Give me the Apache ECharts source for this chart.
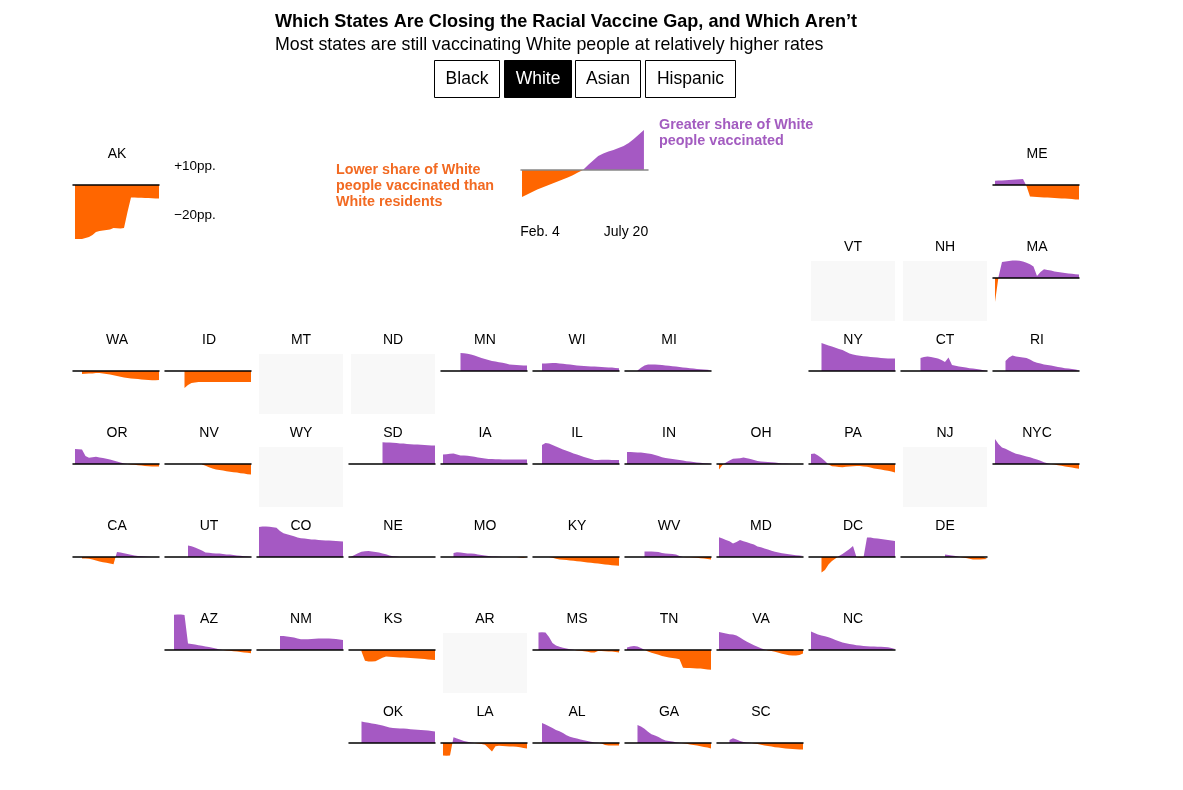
<!DOCTYPE html>
<html><head><meta charset="utf-8">
<style>html,body{margin:0;padding:0;background:#fff}#c{width:1183px;height:790px}</style>
<script src="https://cdn.jsdelivr.net/npm/echarts@6/dist/echarts.min.js"></script>
</head><body><div id="c"></div>
<script>
const _ = null;
// Dates: weekly samples from Feb. 4 to July 20; values: percentage-point gap
const dates = ['Feb. 4','Feb. 11','Feb. 18','Feb. 25','Mar. 4','Mar. 11','Mar. 18','Mar. 25','Apr. 1','Apr. 8','Apr. 15','Apr. 22','Apr. 29','May 6','May 13','May 20','May 27','June 3','June 10','June 17','June 24','July 1','July 8','July 15','July 20'];
const AK=[-27,-27,-27,-26.5,-26,-25,-23.5,-23,-22.8,-22.5,-22.3,-21.5,-21.6,-21.7,-21.5,-13.5,-6.2,-6.3,-6.4,-6.4,-6.5,-6.5,-6.6,-6.7,-6.7];
const ME=[2.1,2.2,2.3,2.4,2.5,2.6,2.8,2.9,3,-0.5,-5.7,-5.9,-6,-6.1,-6.2,-6.3,-6.4,-6.5,-6.6,-6.7,-6.8,-6.9,-7,-7.2,-7.3];
const MA=[-12,0.5,8,8.3,8.5,8.7,8.8,8.6,8.2,7.6,6.9,5.8,1,3,4.4,4,3.7,3.3,3,2.7,2.5,2.3,2.1,1.9,1.7];
const WA=[_,_,-1.5,-1.4,-1.3,-1.2,-1,-1,-1.2,-1.5,-1.8,-2.1,-2.5,-2.9,-3.2,-3.5,-3.7,-3.9,-4,-4.2,-4.4,-4.5,-4.6,-4.6,-4.5];
const ID=[_,_,_,_,_,-8.5,-7,-6,-5.7,-5.5,-5.5,-5.5,-5.5,-5.5,-5.5,-5.5,-5.5,-5.5,-5.5,-5.5,-5.5,-5.5,-5.5,-5.5,-5.5];
const MN=[_,_,_,_,_,9,8.9,8.6,8.2,7.7,7.1,6.5,6,5.5,5,4.7,4.4,4.1,3.8,3.3,3.1,3,2.9,2.8,2.8];
const WI=[_,_,3.8,3.8,3.9,4,4,3.8,3.6,3.4,3.2,3,2.8,2.6,2.5,2.4,2.3,2.2,2.1,2,1.9,1.8,1.7,1.5,1.4];
const MI=[_,_,_,0.2,1.6,2.8,3.2,3.3,3.2,3.1,3,2.8,2.6,2.4,2.2,2,1.8,1.6,1.4,1.2,1,0.9,0.8,0.6,0.4];
const NY=[_,_,_,14,13.4,12.8,12.2,11.6,11,10.5,9.6,8.8,8.3,7.9,7.6,7.4,7.2,7,6.9,6.7,6.5,6.4,6.3,6.2,6.2];
const CT=[_,_,_,_,_,6.5,7,7.3,7,6.6,6.3,5.5,4.5,6.8,3,2.6,2.2,2,1.7,1.4,1.2,1,0.7,0.4,0.2];
const RI=[_,_,_,5,6.8,7.7,7.3,7,6.7,6.5,5.7,4.8,4.1,3.7,3.3,3,2.7,2.4,2,1.7,1.4,1.2,1,0.7,0.4];
const OR=[7.5,7.4,7.2,4,3.1,3.4,3.6,3.3,3,2.6,2.2,1.8,1.3,0.8,0.3,0,-0.2,-0.4,-0.6,-0.8,-1,-1.1,-1.2,-1.3,-1.2];
const NV=[_,_,_,_,_,_,_,_,_,_,-0.2,-0.9,-1.6,-2.3,-2.7,-3,-3.3,-3.6,-3.9,-4.1,-4.3,-4.6,-4.8,-5.1,-5.3];
const SD=[_,_,_,_,_,_,_,_,_,10.9,10.8,10.7,10.6,10.5,10.3,10.2,10,9.9,9.8,9.7,9.6,9.5,9.4,9.3,9.3];
const IA=[4.7,4.9,5.1,5.2,4.8,4.2,4.2,4.1,3.9,3.6,3.3,3,2.7,2.5,2.5,2.4,2.4,2.3,2.3,2.3,2.2,2.2,2.2,2.2,2.2];
const IL=[_,_,9.5,10.5,10.2,9.5,8.8,8,7.2,6.6,6,5.3,4.7,4.1,3.5,3,2.5,2,2,2.1,2.1,2.1,2,2,2];
const IN=[6,6,5.9,5.8,5.7,5.5,5.3,5,4.5,4,3.4,3,2.8,2.5,2.2,2,1.7,1.4,1.2,1,0.8,0.6,0.4,0.2,0];
const OH=[-2.8,-0.5,0.8,1.8,2.6,2.8,2.9,3.2,2.9,2.5,2,1.5,1.2,1.1,1,0.9,0.7,0.5,0.3,0.2,0.1,0,_,_,_];
const PA=[5,5.2,4.2,3,1.5,-0.2,-1.1,-1.2,-1.5,-1.6,-1.4,-1.2,-1.1,-1,-1,-1.2,-1.4,-1.8,-2.2,-2.5,-2.8,-3.1,-3.4,-3.8,-4.2];
const NYC=[12.5,10,8.2,7.6,6.7,5.9,5.1,4.7,4.3,3.8,3.4,2.8,2.2,1.6,0.9,0.4,0,-0.3,-0.6,-0.9,-1.2,-1.5,-1.8,-2.1,-2.4];
const CA=[_,_,-0.7,-0.8,-0.9,-1.3,-1.8,-2.2,-2.6,-2.9,-3.2,-3.6,2.5,2.3,1.9,1.5,1.1,0.7,0.5,0.4,0.3,0.1,0,_,_];
const UT=[_,_,_,_,_,_,5.8,5.4,4.8,4,3.2,2.3,2.1,1.9,1.8,1.7,1.5,1.3,1.2,1,0.8,0.6,0.4,0.3,0.2];
const CO=[15,15.2,15.2,15.1,14.9,14.6,13,11.9,11.4,10.9,10.4,9.8,9.4,9.2,9,8.8,8.7,8.5,8.4,8.3,8.2,8.1,8,7.9,7.8];
const NE=[0.1,1,1.9,2.6,2.9,3,2.8,2.5,2.2,1.8,1.4,0.8,0.4,0.2,0.1,_,_,_,_,_,_,_,_,_,_];
const MO=[_,_,_,2,2.4,2.3,2,1.8,1.7,1.6,1.3,1,0.8,0.5,0.3,0.2,0.1,0,_,_,_,0,-0.3,-0.4,-0.5];
const KY=[_,_,_,_,0,-0.4,-0.9,-1.2,-1.4,-1.5,-1.7,-1.9,-2.1,-2.3,-2.5,-2.7,-2.9,-3.1,-3.3,-3.5,-3.7,-3.9,-4.1,-4.3,-4.4];
const WV=[_,_,_,_,_,2.8,2.8,2.7,2.6,2.5,2,1.8,1.6,1.5,1.2,0.5,0,-0.1,-0.1,-0.2,-0.4,-0.6,-0.8,-1,-1.3];
const MD=[9.9,9.3,8.5,7.9,6.8,7.5,8.5,7.9,7.4,6.8,6.2,5.3,4.9,4.3,3.7,3.1,2.6,2.2,1.9,1.6,1.4,1.1,0.9,0.7,0.5];
const DC=[_,_,_,-7.7,-6.5,-3.8,-2,-0.8,0.5,1.5,2.8,4,5.5,-0.1,-0.2,-0.3,9.8,9.7,9.4,9.2,9,8.8,8.5,8.2,8];
const DE=[_,_,_,_,_,_,_,_,_,_,_,_,1.3,1,0.8,0.5,0.1,-0.2,-0.5,-0.9,-1.3,-1.3,-1.2,-1.1,-1];
const AZ=[_,_,17.6,17.7,17.7,17.5,3.3,3,2.7,2.4,2.1,1.8,1.5,1.1,0.7,0.3,0,-0.2,-0.4,-0.6,-0.8,-1,-1.2,-1.4,-1.6];
const NM=[_,_,_,_,_,_,7,7,6.8,6.5,6.2,5.8,5.4,5.4,5.4,5.5,5.6,5.7,5.8,5.8,5.7,5.6,5.5,5.3,5];
const KS=[_,_,_,-0.8,-5.4,-5.8,-5.8,-5.6,-4.8,-3.9,-3.3,-3.4,-3.5,-3.6,-3.7,-3.8,-3.9,-4,-4.1,-4.2,-4.4,-4.5,-4.7,-4.9,-5];
const MS=[_,8.7,8.9,8.8,6.5,3.5,2.3,1.6,1.1,0.7,0.4,0.1,-0.2,-0.4,-0.6,-0.9,-1.2,-1.3,-0.5,-0.5,-0.6,-0.7,-0.8,-1,-1.2];
const TN=[1.2,1.7,2,1.7,1,0.1,-0.7,-1.4,-1.9,-2.4,-3,-3.4,-3.7,-4,-4.3,-4.6,-8.9,-9,-9,-9.1,-9.2,-9.3,-9.5,-9.7,-9.9];
const VA=[9,8.6,8.2,7.9,7.7,7.2,6.2,5.1,4.1,3.3,2.4,1.6,0.9,0.2,-0.2,-0.5,-0.9,-1.4,-1.9,-2.3,-2.6,-2.8,-2.8,-2.5,-1.7];
const NC=[9.2,8.5,7.8,7.2,6.9,6.4,5.7,5,4.4,3.8,3.4,3,2.7,2.4,2.2,2,1.9,1.8,1.7,1.6,1.6,1.5,1.4,1,0.5];
const OK=[_,_,_,10.7,10.4,10.1,9.8,9.5,9.1,8.7,8.3,7.8,7.5,7.4,7.3,7.2,7.1,6.9,6.8,6.6,6.5,6.4,6.2,6,5.8];
const LA=[-6.3,-6.4,-6.2,2.9,2.2,1.6,1,0.6,0.2,0,-0.2,-0.5,-0.9,-2.5,-4.2,-1.6,-1.4,-1.5,-1.6,-1.7,-1.8,-1.9,-2.1,-2.5,-2.8];
const AL=[_,_,10,9.2,8.4,7.5,6.5,5.9,5,3.9,3.1,2.6,2.2,1.8,1.4,1,0.6,0.3,0.1,-0.3,-1,-1.3,-1.3,-1.3,-1.2];
const GA=[_,_,_,9,8.3,7.1,5.6,4.4,3.7,3,2,1.3,1,0.7,0.4,0.1,-0.1,-0.4,-0.7,-1,-1.3,-1.6,-2,-2.3,-2.7];
const SC=[_,_,_,1.5,2.4,1.7,1,0.5,0.2,0.1,-0.2,-0.5,-0.9,-1.2,-1.5,-1.8,-2.1,-2.3,-2.5,-2.7,-2.9,-3,-3.1,-3.2,-3.3];
const EXAMPLE=[-13.5,-12.2,-11,-9.8,-8.7,-7.7,-6.7,-5.7,-4.8,-3.8,-2.6,-1.2,0,2.5,4.8,7,8.2,9.2,10,11,12,13.5,15.5,17.7,20];

const seriesByState = {AK,ME,MA,WA,ID,MN,WI,MI,NY,CT,RI,OR,NV,SD,IA,IL,IN,OH,PA,NYC,CA,UT,CO,NE,MO,KY,WV,MD,DC,DE,AZ,NM,KS,MS,TN,VA,NC,OK,LA,AL,GA,SC};
const noData = ['VT','NH','MT','ND','WY','NJ','AR'];
// state-tile placement: [state, column, row]
const tiles = [
 ['AK',0,0],['ME',10,0],['VT',8,1],['NH',9,1],['MA',10,1],
 ['WA',0,2],['ID',1,2],['MT',2,2],['ND',3,2],['MN',4,2],['WI',5,2],['MI',6,2],['NY',8,2],['CT',9,2],['RI',10,2],
 ['OR',0,3],['NV',1,3],['WY',2,3],['SD',3,3],['IA',4,3],['IL',5,3],['IN',6,3],['OH',7,3],['PA',8,3],['NJ',9,3],['NYC',10,3],
 ['CA',0,4],['UT',1,4],['CO',2,4],['NE',3,4],['MO',4,4],['KY',5,4],['WV',6,4],['MD',7,4],['DC',8,4],['DE',9,4],
 ['AZ',1,5],['NM',2,5],['KS',3,5],['AR',4,5],['MS',5,5],['TN',6,5],['VA',7,5],['NC',8,5],
 ['OK',3,6],['LA',4,6],['AL',5,6],['GA',6,6],['SC',7,6]
];
const ORANGE='#ff6600', PURPLE='#a559c3', FONT='"Liberation Sans",Arial,sans-serif';
const colX=c=>73+92*c, baseY=r=>185+93*r;
const grid=[],xAxis=[],yAxis=[],series=[],graphic=[];
function addChart(name,vals,left,width,base,xMin,xMax,lineColor){
  const i=grid.length;
  grid.push({left,width,top:base-40,height:100,outerBoundsMode:'none',containLabel:false});
  xAxis.push({gridIndex:i,type:'value',min:xMin,max:xMax,z:5,axisLine:{show:true,onZero:true,lineStyle:{color:lineColor,width:1.5}},axisTick:{show:false},axisLabel:{show:false},splitLine:{show:false}});
  yAxis.push({gridIndex:i,type:'value',min:-30,max:20,show:false,splitLine:{show:false}});
  series.push({name,type:'line',xAxisIndex:i,yAxisIndex:i,data:vals.map((v,k)=>[k,v]),showSymbol:false,symbol:'none',lineStyle:{width:0},areaStyle:{opacity:1},silent:true,animation:false});
}
function text(t,x,y,o){graphic.push({type:'text',x,y:y+1,silent:true,style:Object.assign({text:t,fill:'#000',font:'14px '+FONT,textAlign:'center',textVerticalAlign:'middle'},o||{})});}
tiles.forEach(([st,c,r])=>{
  const L=colX(c),B=baseY(r);
  if(noData.includes(st)) graphic.push({type:'rect',silent:true,shape:{x:L+2,y:B-17,width:84,height:60},style:{fill:'#f8f8f8'}});
  else addChart(st,seriesByState[st],L,86,B,-0.57,dates.length-1,'#000');
  text(st,L+44,B-32);
});
addChart('Example',EXAMPLE,521,127,170,-0.2,24.8,'#888');

text('Which States Are Closing the Racial Vaccine Gap, and Which Aren’t',275,21,{font:'bold 18.1px '+FONT,textAlign:'left'});
text('Most states are still vaccinating White people at relatively higher rates',275,44,{font:'17.8px '+FONT,textAlign:'left'});
[['Black',434,65,0],['White',504,67,1],['Asian',575,65,0],['Hispanic',645,90,0]].forEach(([t,x,w,on])=>{
  graphic.push({type:'rect',silent:true,shape:{x:x+.5,y:60.5,width:w,height:37},style:{fill:on?'#000':'#fff',stroke:'#000',lineWidth:1}});
  text(t,x+w/2+.5,78,{font:'17.5px '+FONT,fill:on?'#fff':'#000'});
});
text('+10pp.',195,165,{font:'13.5px '+FONT});
text('−20pp.',195,214,{font:'13.5px '+FONT});
['Lower share of White','people vaccinated than','White residents'].forEach((t,i)=>text(t,336,169+16*i,{font:'bold 14.3px '+FONT,fill:'#f26a22',textAlign:'left'}));
['Greater share of White','people vaccinated'].forEach((t,i)=>text(t,659,124+16*i,{font:'bold 14.4px '+FONT,fill:'#a35cc0',textAlign:'left'}));
text('Feb. 4',540,231);
text('July 20',626,231);

const chart=echarts.init(document.getElementById('c'),null,{renderer:'canvas'});
chart.setOption({animation:false,backgroundColor:'#fff',grid,xAxis,yAxis,series,
  visualMap:{show:false,type:'piecewise',dimension:1,seriesIndex:series.map((s,i)=>i),pieces:[{gte:-100,lt:0,color:ORANGE},{gte:0,lte:100,color:PURPLE}]},
  graphic});
</script></body></html>
